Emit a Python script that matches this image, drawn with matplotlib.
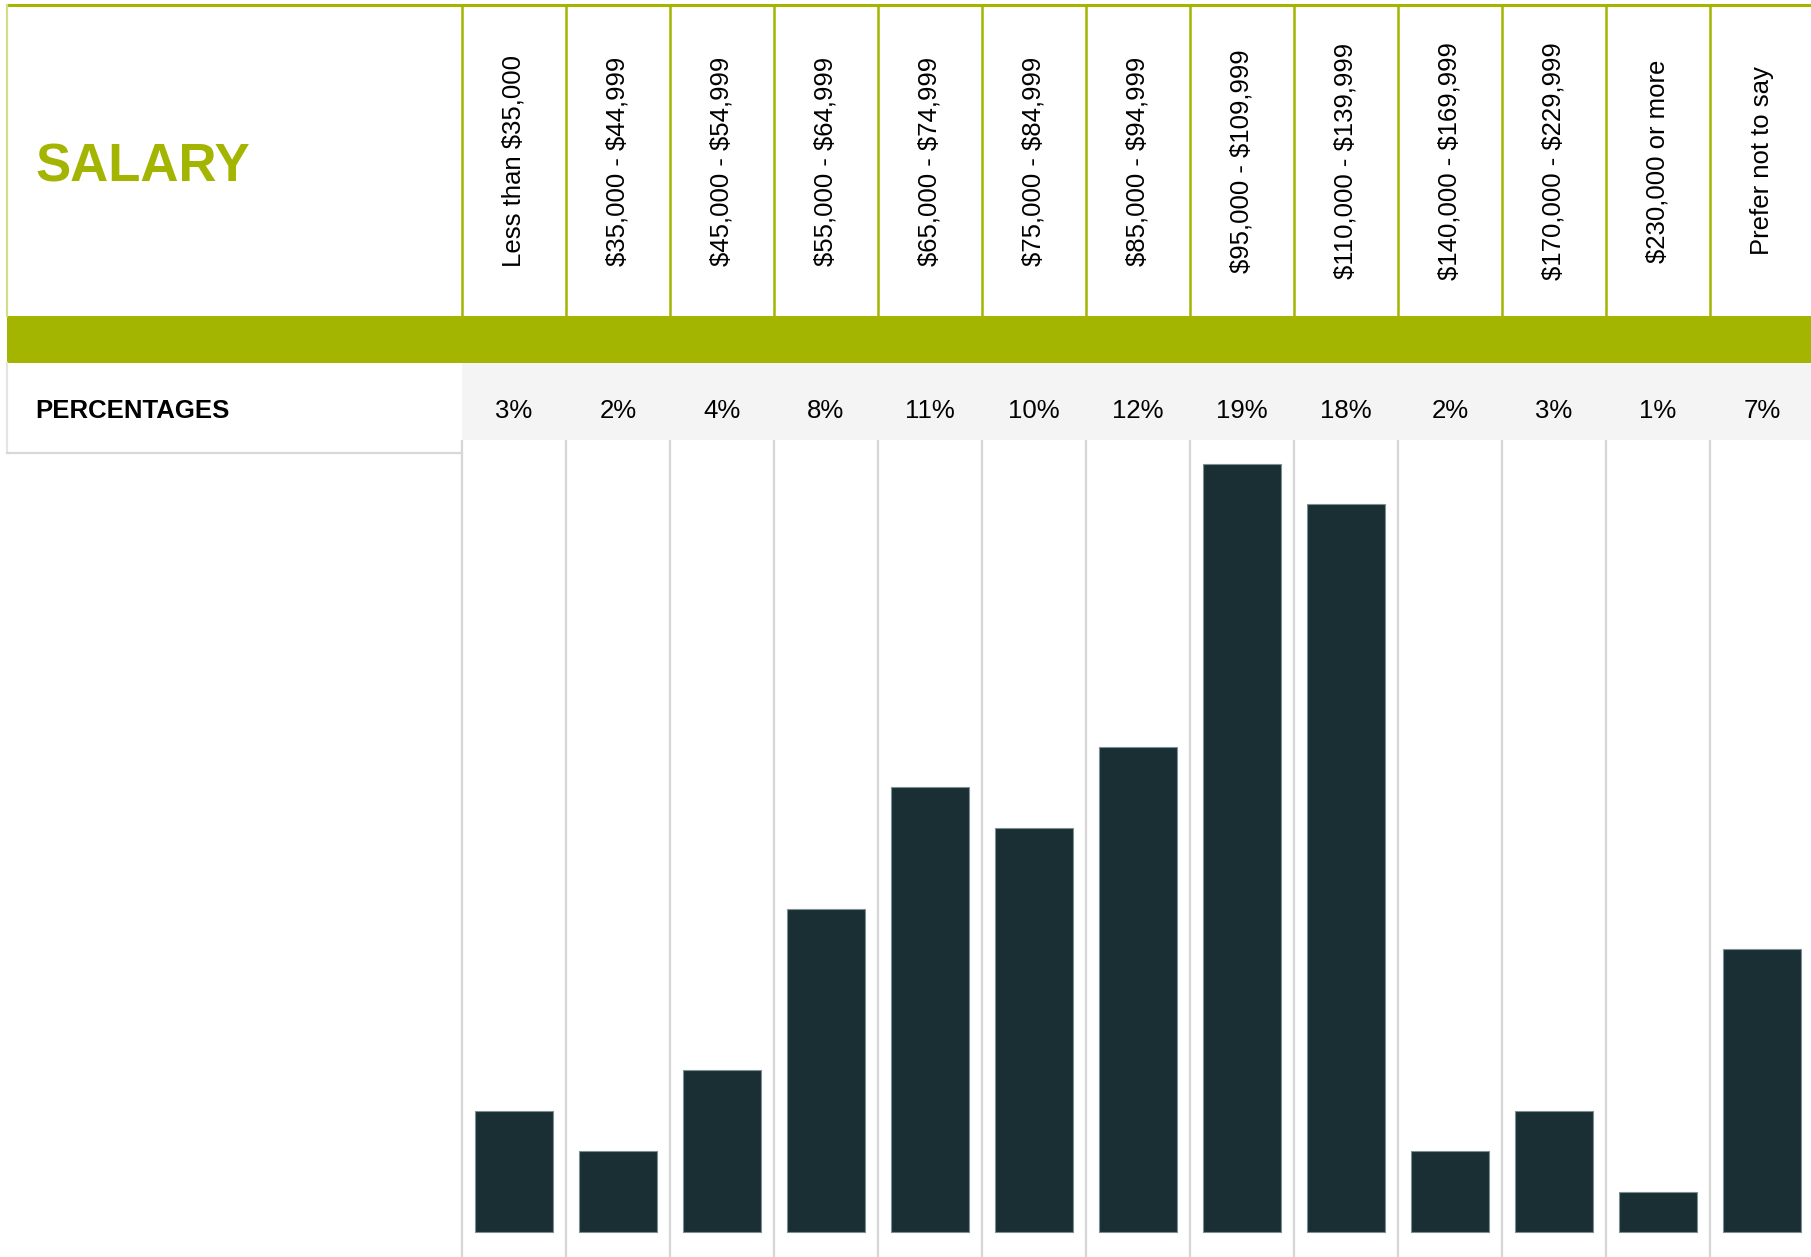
import matplotlib.pyplot as plt
from matplotlib.patches import Rectangle

categories = ["Less than $35,000", "$35,000 - $44,999", "$45,000 - $54,999",
              "$55,000 - $64,999", "$65,000 - $74,999", "$75,000 - $84,999",
              "$85,000 - $94,999", "$95,000 - $109,999", "$110,000 - $139,999",
              "$140,000 - $169,999", "$170,000 - $229,999", "$230,000 or more",
              "Prefer not to say"]
percentages = [3, 2, 4, 8, 11, 10, 12, 19, 18, 2, 3, 1, 7]

W, H = 1811, 1257
GREEN = '#a3b500'
LIGHT_GREEN = '#d3dd8c'
DARK = '#1a2f34'
GRID = '#d6d6d6'

plt.rcParams['font.family'] = ['Liberation Sans', 'DejaVu Sans']

fig = plt.figure(figsize=(W / 100, H / 100), dpi=100)

# table layer, in pixel coordinates
page = fig.add_axes([0, 0, 1, 1])
page.set_xlim(0, W)
page.set_ylim(H, 0)
page.axis('off')

col0, colw = 462, 104
head_top, head_bot = 5, 316
band_bot = 363
row_bot = 440

# header cells
page.plot([7, W], [head_top, head_top], color=GREEN, lw=2.2, solid_capstyle='butt')
page.plot([7, 7], [head_top, head_bot], color=LIGHT_GREEN, lw=1.6)
for i in range(len(categories) + 1):
    x = col0 + colw * i
    page.plot([x, x], [head_top, head_bot], color=GREEN, lw=1.8)
page.add_patch(Rectangle((7, head_bot), W - 7, band_bot - head_bot, color=GREEN, lw=0))

page.text(35, 167, "SALARY", fontsize=38, fontweight='bold', color=GREEN, va='center', ha='left')
for i, cat in enumerate(categories):
    page.text(col0 + colw * (i + 0.5), 161, cat, rotation=90, fontsize=18.5,
              ha='center', va='center', color='black', parse_math=False)

# percentages row
page.add_patch(Rectangle((col0, band_bot), W - col0, row_bot - band_bot, color='#f4f4f4', lw=0))
page.plot([7, 7], [band_bot, 453], color='#e4e4e4', lw=1.6)
page.plot([7, col0], [453, 453], color='#d8d8d8', lw=1.6)
page.text(35, 411, "PERCENTAGES", fontsize=18.5, fontweight='bold', va='center', ha='left')
for i, v in enumerate(percentages):
    page.text(col0 + colw * (i + 0.5), 411, f"{v}%", fontsize=18.5, ha='center', va='center')

# bar chart
ax = fig.add_axes([col0 / W, 0, (W - col0) / W, (H - row_bot) / H])
ax.patch.set_visible(False)
px_per_unit = (1232 - 464) / 19
ax.set_ylim(-(H - 1232) / px_per_unit, (H - row_bot - (H - 1232)) / px_per_unit)
ax.set_xlim(0, (W - col0) / colw)
ax.vlines(range(len(categories) + 1), ax.get_ylim()[0], ax.get_ylim()[1],
          color=GRID, lw=1.6, clip_on=False, zorder=1)
ax.bar([i + 0.5 for i in range(len(percentages))], percentages, width=0.755,
       color=DARK, edgecolor='#7f9094', linewidth=0.8, zorder=2)
ax.axis('off')

fig.savefig("out.png", dpi=100)
